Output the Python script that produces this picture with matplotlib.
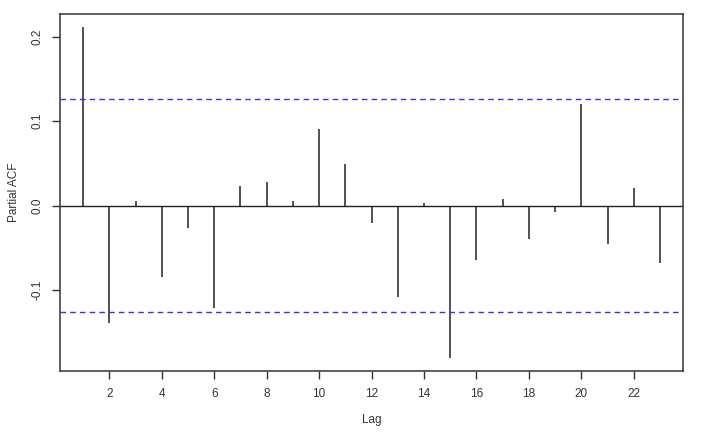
import matplotlib
matplotlib.use("Agg")
import matplotlib.pyplot as plt
import numpy as np

plt.rcParams["font.family"] = ["Liberation Sans", "DejaVu Sans"]

# partial autocorrelations
LAGS = list(range(1, 24))
PACF = [0.211, -0.139, 0.005, -0.084, -0.026, -0.121, 0.023, 0.028, 0.005,
        0.091, 0.049, -0.021, -0.108, 0.003, -0.180, -0.064, 0.008, -0.040,
        -0.008, 0.120, -0.046, 0.021, -0.068]
CLIM = 0.126  # confidence bound
XTICKS = list(range(2, 24, 2))
YTICKS = [-0.1, 0.0, 0.1, 0.2]

fig = plt.figure(figsize=(7.12, 4.34), dpi=100)
ax = fig.add_axes([0.0843, 0.1452, 0.875, 0.8225])

ax.vlines(LAGS, 0, PACF, color="#222222", linewidth=1.1)
ax.axhline(0, color="#222222", linewidth=1.0)
ax.axhline(CLIM, color="#3333ee", linestyle=(0, (4, 3)), linewidth=1.0)
ax.axhline(-CLIM, color="#3333ee", linestyle=(0, (4, 3)), linewidth=1.0)

# R-style 4% padding around the data range
lo = min(min(PACF), -CLIM)
hi = max(max(PACF), CLIM)
pad = 0.04 * (hi - lo)
ax.set_ylim(lo - pad, hi + pad)
ax.set_xlim(1 - 0.04 * 22, 23 + 0.04 * 22)

ax.set_xticks(XTICKS)
ax.set_yticks(YTICKS)
ax.set_yticklabels([f"{v:.1f}" for v in YTICKS], rotation=90, va="center")
ax.tick_params(direction="out", length=6, width=1.0, color="#333333",
               labelsize=8.5, labelcolor="#333333", pad=6)
for s in ax.spines.values():
    s.set_color("#333333")
    s.set_linewidth(1.1)

ax.set_xlabel("Lag", fontsize=8.5, color="#333333", labelpad=10)
ax.set_ylabel("Partial ACF", fontsize=8.5, color="#333333", labelpad=8)

fig.savefig("out.png", dpi=100)
